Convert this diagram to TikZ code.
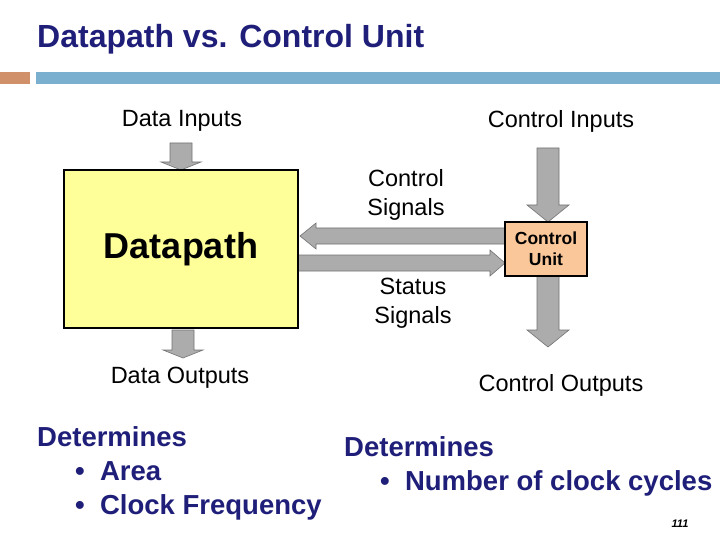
\documentclass[tikz,border=0pt]{standalone}
\usepackage{fontspec}
\setmainfont{Liberation Sans}
\begin{document}
\begin{tikzpicture}[x=1pt,y=-1pt,
  lbl/.style={font=\fontsize{23.5}{29}\selectfont,align=center},
  big/.style={font=\fontsize{27.5}{32}\selectfont\bfseries,text=navy,anchor=base west,inner sep=0},
  garrow/.style={fill=gray!65,draw=gray!90!black,line width=0.6pt}]
\definecolor{navy}{HTML}{1F1F7A}
\definecolor{barblue}{HTML}{7BAFCF}
\definecolor{barorange}{HTML}{D0906A}
\definecolor{dpyellow}{HTML}{FFFF99}
\definecolor{cupeach}{HTML}{FAC79A}
\useasboundingbox (0,0) rectangle (720,540);
\fill[white] (0,0) rectangle (720,540);
\node[anchor=base west,inner sep=0,text=navy,font=\fontsize{32}{36}\selectfont\bfseries] (title) at (37,48) {Datapath vs. Control Unit};
\fill[barorange] (0,72) rectangle (30,84);
\fill[barblue] (36,72) rectangle (720,84);
% arrows
\draw[garrow] (170,143) -- (192,143) -- (192,162) -- (201,162) -- (181,170) -- (161,162) -- (170,162) -- cycle;
\draw[garrow] (537,148) -- (559,148) -- (559,205) -- (569,205) -- (548,222) -- (527,205) -- (537,205) -- cycle;
\draw[garrow] (172,330) -- (194,330) -- (194,350) -- (203,350) -- (183,358) -- (163,350) -- (172,350) -- cycle;
\draw[garrow] (537,276) -- (559,276) -- (559,330) -- (569,330) -- (548,347) -- (527,330) -- (537,330) -- cycle;
\draw[garrow] (505,228) -- (316,228) -- (316,223) -- (300,236) -- (316,249) -- (316,244) -- (505,244) -- cycle;
\draw[garrow] (298,255) -- (490,255) -- (490,250) -- (505,263) -- (490,276) -- (490,271) -- (298,271) -- cycle;
% boxes
\node[draw,line width=2pt,fill=dpyellow,minimum width=234,minimum height=158,font=\fontsize{36}{40}\selectfont\bfseries] (dp) at (181,249) {\raisebox{0pt}{Datapath}};
\node[draw,line width=2pt,fill=cupeach,minimum width=82,minimum height=54,inner sep=1pt,align=center,font=\fontsize{17.5}{21}\selectfont\bfseries] (cu) at (546,249) {Control\\Unit};
% labels
\node[lbl] (di) at (182,121) {Data Inputs};
\node[lbl] (ci) at (561,121) {Control Inputs};
\node[lbl] (cs) at (406,195) {Control\\Signals};
\node[lbl] (ss) at (413,303) {Status\\Signals};
\node[lbl] (do) at (180,378) {Data Outputs};
\node[lbl] (co) at (561,385) {Control Outputs};
\node[big] (d1) at (37,446) {Determines};
\node[big] (d2) at (75,480) {\textbullet\ \ Area};
\node[big] (d3) at (75,514) {\textbullet\ \ Clock Frequency};
\node[big] (d4) at (344,456) {Determines};
\begin{scope}
\clip (0,0) rectangle (720,540);
\node[big] (d5) at (380,490) {\textbullet\ \ Number of clock cycles};
\end{scope}
\node[font=\fontsize{11}{12}\selectfont\itshape\bfseries] (pg) at (680,524) {111};
\end{tikzpicture}
\end{document}
